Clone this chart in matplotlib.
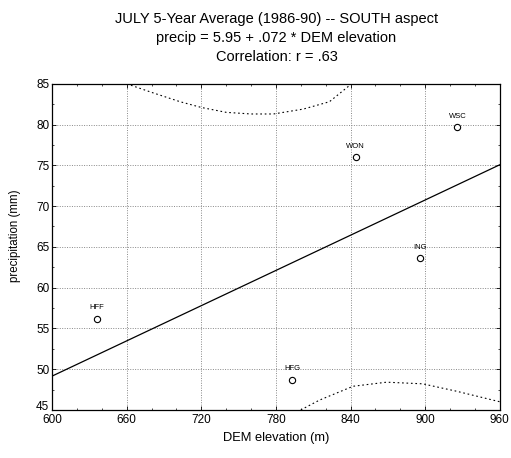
import matplotlib
matplotlib.use("Agg")
import matplotlib.pyplot as plt
import numpy as np
from matplotlib.ticker import MultipleLocator

plt.rcParams['font.family'] = ['Liberation Sans', 'DejaVu Sans']

# station data (elevation m, precip mm)
stations = ["HFF", "HFG", "ING", "WON", "WSC"]
elev = [636, 793, 896, 844, 926]
precip = [56.2, 48.7, 63.6, 76.0, 79.7]

# regression: precip = 5.95 + .072 * elev
intercept = 5.95
slope = 0.072

# dotted bands
upper_x = [660, 681, 703, 720, 740, 760, 778, 802, 823, 840]
upper_y = [85.0, 83.9, 82.8, 82.1, 81.5, 81.3, 81.3, 81.9, 82.8, 84.9]
lower_x = [800, 815, 842, 869, 898, 925, 960]
lower_y = [45.0, 46.2, 47.9, 48.4, 48.2, 47.3, 46.0]

fig = plt.figure(figsize=(5.11, 4.58), dpi=100)
ax = fig.add_axes([0.102, 0.105, 0.876, 0.712])

# grid
for gx in range(600, 961, 60):
    ax.axvline(gx, color='#888888', linestyle=(0, (1, 1.5)), linewidth=0.7, zorder=1)
for gy in range(45, 86, 5):
    ax.axhline(gy, color='#888888', linestyle=(0, (1, 1.5)), linewidth=0.7, zorder=1)

xs = np.array([600, 960])
ax.plot(xs, intercept + slope * xs, color='black', linewidth=0.9, zorder=3)

ax.plot(upper_x, upper_y, color='black', linestyle=(0, (1.5, 2.5)), linewidth=0.8, zorder=3)
ax.plot(lower_x, lower_y, color='black', linestyle=(0, (1.5, 2.5)), linewidth=0.8, zorder=3)

ax.plot(elev, precip, linestyle='none', marker='o', markersize=4.5,
        markerfacecolor='white', markeredgecolor='black', markeredgewidth=0.8, zorder=4)
for name, x, y in zip(stations, elev, precip):
    ax.text(x, y + 0.9, name, fontsize=5.5, ha='center', va='bottom', zorder=5)

ax.set_xlim(600, 960)
ax.set_ylim(45, 85)
ax.set_xticks(range(600, 961, 60))
ax.set_yticks(range(45, 86, 5))
ax.xaxis.set_minor_locator(MultipleLocator(20))
ax.yaxis.set_minor_locator(MultipleLocator(2.5))
ax.tick_params(which='both', direction='in', top=True, right=True, labelsize=8.5)
ax.tick_params(axis='x', pad=3)
ax.tick_params(axis='y', pad=2)
ax.tick_params(which='major', length=3, width=0.6)
ax.tick_params(which='minor', length=1.5, width=0.5)
# lowest y label sits a bit up, clear of the x labels
ax.get_yticklabels()[0].set_verticalalignment('baseline')
for s in ax.spines.values():
    s.set_linewidth(0.9)

ax.set_xlabel("DEM elevation (m)", fontsize=9.3, labelpad=4)
ax.set_ylabel("precipitation (mm)", fontsize=8.3)
ax.yaxis.set_label_coords(-0.07, 0.535)

fig.text(0.541, 0.958, "JULY 5-Year Average (1986-90) -- SOUTH aspect", ha='center', va='center', fontsize=10.5)
fig.text(0.541, 0.917, "precip = 5.95 + .072 * DEM elevation", ha='center', va='center', fontsize=10.5)
fig.text(0.541, 0.876, "Correlation: r = .63", ha='center', va='center', fontsize=10.5)

fig.savefig("out.png", dpi=100)
